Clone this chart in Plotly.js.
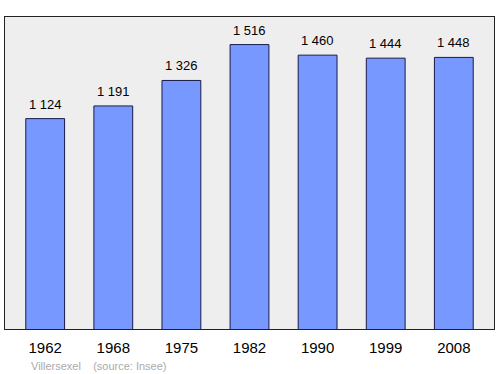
<!DOCTYPE html>
<html>
<head>
<meta charset="utf-8">
<script src="https://cdn.plot.ly/plotly-3.0.1.min.js"></script>
<style>html,body{margin:0;padding:0;background:#fff;}#chart{width:500px;height:374px;}</style>
</head>
<body>
<div id="chart"></div>
<script>
const years = ["1962", "1968", "1975", "1982", "1990", "1999", "2008"];
const population = [1124, 1191, 1326, 1516, 1460, 1444, 1448];
const valueLabels = ["1 124", "1 191", "1 326", "1 516", "1 460", "1 444", "1 448"];
const footerText = "Villersexel    (source: Insee)";

const xs = years.map((_, i) => i);

const trace = {
  type: "bar",
  x: xs,
  y: population,
  width: 0.57,
  marker: { color: "#7799ff", line: { color: "#1a1a4a", width: 1 } },
  hoverinfo: "skip"
};

const annotations = xs.map((x, i) => ({
  x: x, y: population[i], xref: "x", yref: "y",
  text: valueLabels[i], showarrow: false,
  yanchor: "bottom", yshift: 5,
  font: { family: "Liberation Sans, Arial, sans-serif", size: 13, color: "#000" }
}));
annotations.push({
  xref: "paper", yref: "paper", x: -0.004, y: 0, yanchor: "middle", xanchor: "left",
  xshift: 26, yshift: -37,
  text: footerText.replace(/ /g, "&nbsp;"), showarrow: false,
  font: { family: "Liberation Sans, Arial, sans-serif", size: 11, color: "#aaaaaa" }
});

const layout = {
  width: 500, height: 374,
  margin: { l: 5, r: 6, t: 17, b: 45 },
  paper_bgcolor: "#ffffff",
  plot_bgcolor: "#eeeeee",
  showlegend: false,
  xaxis: {
    range: [-0.59, 6.59],
    tickmode: "array", tickvals: xs, ticktext: years,
    ticks: "outside", ticklen: 5, tickcolor: "rgba(0,0,0,0)",
    tickfont: { family: "Liberation Sans, Arial, sans-serif", size: 15, color: "#000" },
    showgrid: false, zeroline: false,
    showline: true, linecolor: "#222", linewidth: 1, mirror: true
  },
  yaxis: {
    range: [10, 1662],
    showticklabels: false, ticks: "",
    showgrid: false, zeroline: false,
    showline: true, linecolor: "#222", linewidth: 1, mirror: true
  },
  annotations: annotations
};

Plotly.newPlot("chart", [trace], layout, { staticPlot: true, displayModeBar: false });
</script>
</body>
</html>
